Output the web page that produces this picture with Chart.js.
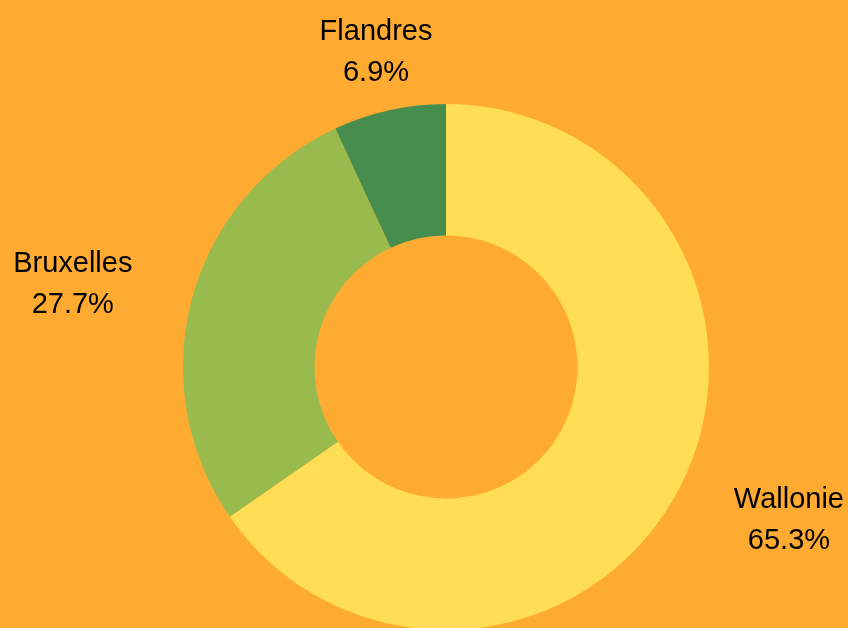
<!DOCTYPE html>
<html>
<head>
<meta charset="utf-8">
<script src="https://cdn.jsdelivr.net/npm/chart.js@4/dist/chart.umd.min.js"></script>
<style>
html,body{margin:0;padding:0;background:#FFAA30;overflow:hidden;}
#wrap{width:848px;height:632px;position:relative;}
</style>
</head>
<body>
<div id="wrap"><canvas id="c"></canvas></div>
<script>
const categories = ["Wallonie", "Bruxelles", "Flandres"];
const values = [65.3, 27.7, 6.9];
const valueLabels = ["65.3%", "27.7%", "6.9%"];
const colors = ["#FFDD55", "#99BB4D", "#468D4E"];

const outsideLabels = {
  id: 'outsideLabels',
  afterDatasetsDraw(chart) {
    const ctx = chart.ctx;
    const meta = chart.getDatasetMeta(0);
    ctx.save();
    ctx.font = '29px "Liberation Sans", Arial, sans-serif';
    ctx.fillStyle = '#000000';
    ctx.textBaseline = 'middle';
    meta.data.forEach((arc, i) => {
      const mid = (arc.startAngle + arc.endAngle) / 2;
      const s = Math.cos(mid), c = Math.sin(mid);
      const w = Math.max(ctx.measureText(categories[i]).width, ctx.measureText(valueLabels[i]).width);
      const R = arc.outerRadius + 62;
      let x = arc.x + s * R;
      const y = arc.y + c * R + 2;
      if (s > 0.5) x += w / 2;
      else if (s < -0.5) x -= w / 2;
      ctx.textAlign = 'center';
      ctx.fillText(categories[i], x, y - 20);
      ctx.fillText(valueLabels[i], x, y + 21);
    });
    ctx.restore();
  }
};

new Chart(document.getElementById('c'), {
  type: 'doughnut',
  data: {
    labels: categories,
    datasets: [{
      data: values,
      backgroundColor: colors,
      borderWidth: 0
    }]
  },
  options: {
    responsive: true,
    maintainAspectRatio: false,
    animation: false,
    cutout: '50%',
    layout: { padding: { left: 183, right: 139, top: 104, bottom: 2 } },
    plugins: { legend: { display: false }, tooltip: { enabled: false } }
  },
  plugins: [outsideLabels]
});
</script>
</body>
</html>
